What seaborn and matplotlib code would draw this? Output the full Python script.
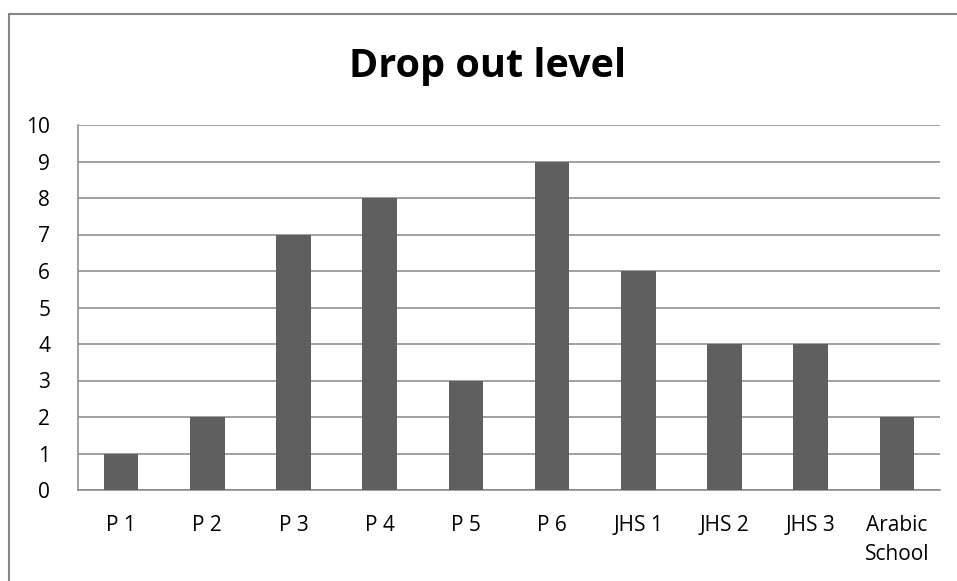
import matplotlib
matplotlib.use("Agg")
import matplotlib.pyplot as plt
from matplotlib.patches import Rectangle
from matplotlib.ticker import FixedLocator
import seaborn as sns
import pandas as pd

levels = ["P 1", "P 2", "P 3", "P 4", "P 5", "P 6", "JHS 1", "JHS 2", "JHS 3", "Arabic\nSchool"]
dropouts = [1, 2, 7, 8, 3, 9, 6, 4, 4, 2]
y_ticks = list(range(0, 11))

sns.set_theme(style="white")
plt.rcParams["font.family"] = ["Open Sans", "DejaVu Sans"]

df = pd.DataFrame({"level": levels, "count": dropouts})

fig = plt.figure(figsize=(9.57, 5.81), dpi=100)
ax = fig.add_axes([78 / 957, 1 - 490 / 581, (940 - 78) / 957, (490 - 125) / 581])

grid_c = "#878787"
sns.barplot(data=df, x="level", y="count", color="#5f5f5f", width=0.4,
            saturation=1, linewidth=0, ax=ax, zorder=3)

ax.set_xlim(-0.5, len(levels) - 0.5)
ax.set_ylim(0, 10)
ax.set_yticks(y_ticks)
ax.yaxis.grid(True, color=grid_c, linewidth=1.1, zorder=0)
ax.set_axisbelow(True)
ax.set_xlabel("")
ax.set_ylabel("")

for side in ["top", "right"]:
    ax.spines[side].set_visible(False)
for side in ["left", "bottom"]:
    ax.spines[side].set_color(grid_c)
    ax.spines[side].set_linewidth(1.1)

# category boundary ticks on the x axis
ax.xaxis.set_minor_locator(FixedLocator([i - 0.5 for i in range(len(levels) + 1)]))
ax.tick_params(axis="x", which="major", length=0, pad=18, labelsize=15, labelcolor="black")
ax.tick_params(axis="x", which="minor", length=8, width=1.1, color=grid_c, direction="out")
ax.tick_params(axis="y", which="major", length=8, width=1.1, color=grid_c, direction="out",
               pad=12, labelsize=15, labelcolor="black")
for lab in ax.get_xticklabels():
    lab.set_verticalalignment("top")
    lab.set_linespacing(1.5)

fig.text(488 / 957, 1 - 66 / 581, "Drop out level", ha="center", va="center",
         fontsize=28.5, fontweight="bold", color="black")

fig.patches.append(Rectangle((8.5 / 957, -0.1), 1.2, 1.1 - 13.5 / 581,
                             transform=fig.transFigure, fill=False,
                             edgecolor="#868686", linewidth=1.5))

fig.savefig("out.png", dpi=100)
